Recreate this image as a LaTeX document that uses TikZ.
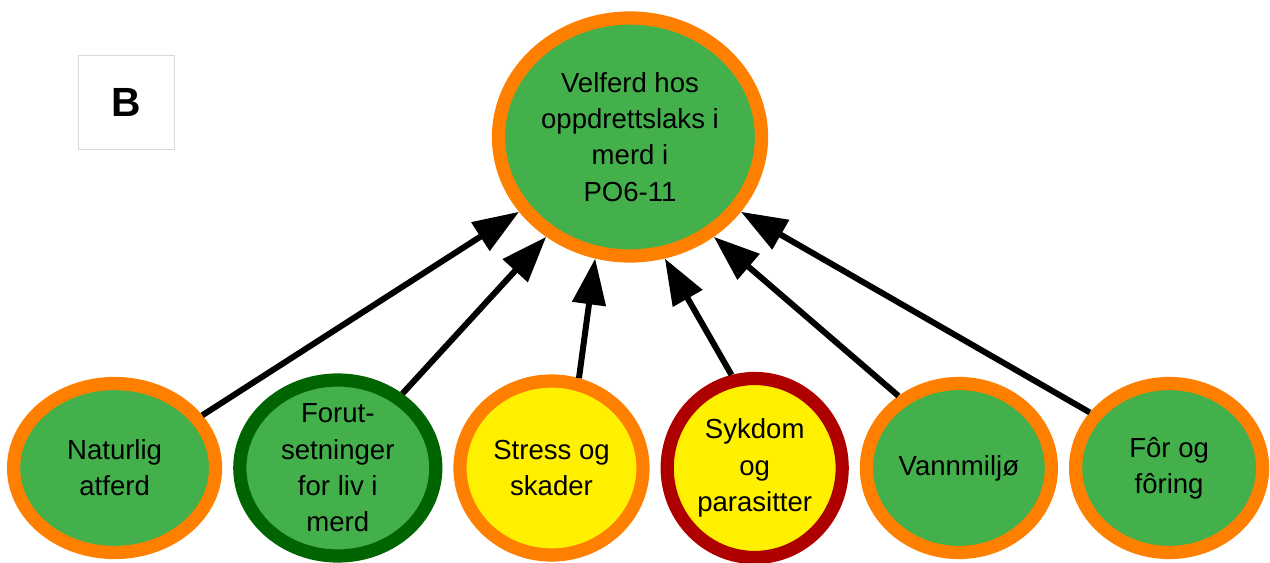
\documentclass[tikz,border=0pt]{standalone}
\usepackage{fontspec}
\setmainfont{Liberation Sans}
\usepackage{tikz}
\usetikzlibrary{arrows.meta,positioning,shapes.geometric}

\definecolor{fishgreen}{RGB}{67,176,76}
\definecolor{warnorange}{RGB}{255,128,0}
\definecolor{goodgreen}{RGB}{0,100,0}
\definecolor{badred}{RGB}{175,0,0}
\definecolor{midyellow}{RGB}{255,240,0}

\begin{document}
\begin{tikzpicture}[
node distance=0.275cm,
blob/.style={ellipse, draw=warnorange, fill=fishgreen, line width=0.33cm, outer sep=0.165cm, inner xsep=0pt, inner ysep=-1cm, align=center, font=\fontsize{19.6}{25.8}\selectfont},
arr/.style={-{Triangle[length=1.15cm, width=0.82cm]}, line width=0.15cm}
]
\useasboundingbox (0,0) rectangle (31.75,14.05);
\node[draw=black!15, line width=0.7pt, minimum width=2.4cm, minimum height=2.35cm, font=\fontsize{29}{34}\selectfont\bfseries] (tag) at (3.15,11.5) {B};
\node[blob, minimum width=6.575cm, minimum height=5.95cm] (top) at (15.75,10.625) {Velferd hos\\oppdrettslaks i\\merd i\\PO6-11};
% factors
\node[blob, anchor=west, minimum width=5.05cm, minimum height=4.225cm] (nat) at (0.175,2.35) {Naturlig\\atferd};
\node[blob, right=of nat, draw=goodgreen, minimum width=4.9cm, minimum height=4.4cm] (forut) {Forut-\\setninger\\for liv i\\merd};
\node[blob, right=of forut, fill=midyellow, minimum width=4.575cm, minimum height=4.35cm] (stress) {Stress og\\skader};
\node[blob, right=of stress, draw=badred, fill=midyellow, minimum width=4.375cm, minimum height=4.475cm] (sykdom) {Sykdom\\og\\parasitter};
\node[blob, right=of sykdom, minimum width=4.625cm, minimum height=4.225cm] (vann) {Vannmiljø};
\node[blob, right=of vann, minimum width=4.675cm, minimum height=4.225cm] (foring) {Fôr og\\fôring};
\draw[arr] (nat.31)--(top.214);
\draw[arr] (forut.49)--(top.230);
\draw[arr] (stress.73)--(top.254);
\draw[arr] (sykdom.104)--(top.286);
\draw[arr] (vann.130)--(top.310);
\draw[arr] (foring.145)--(top.326);
\end{tikzpicture}
\end{document}
